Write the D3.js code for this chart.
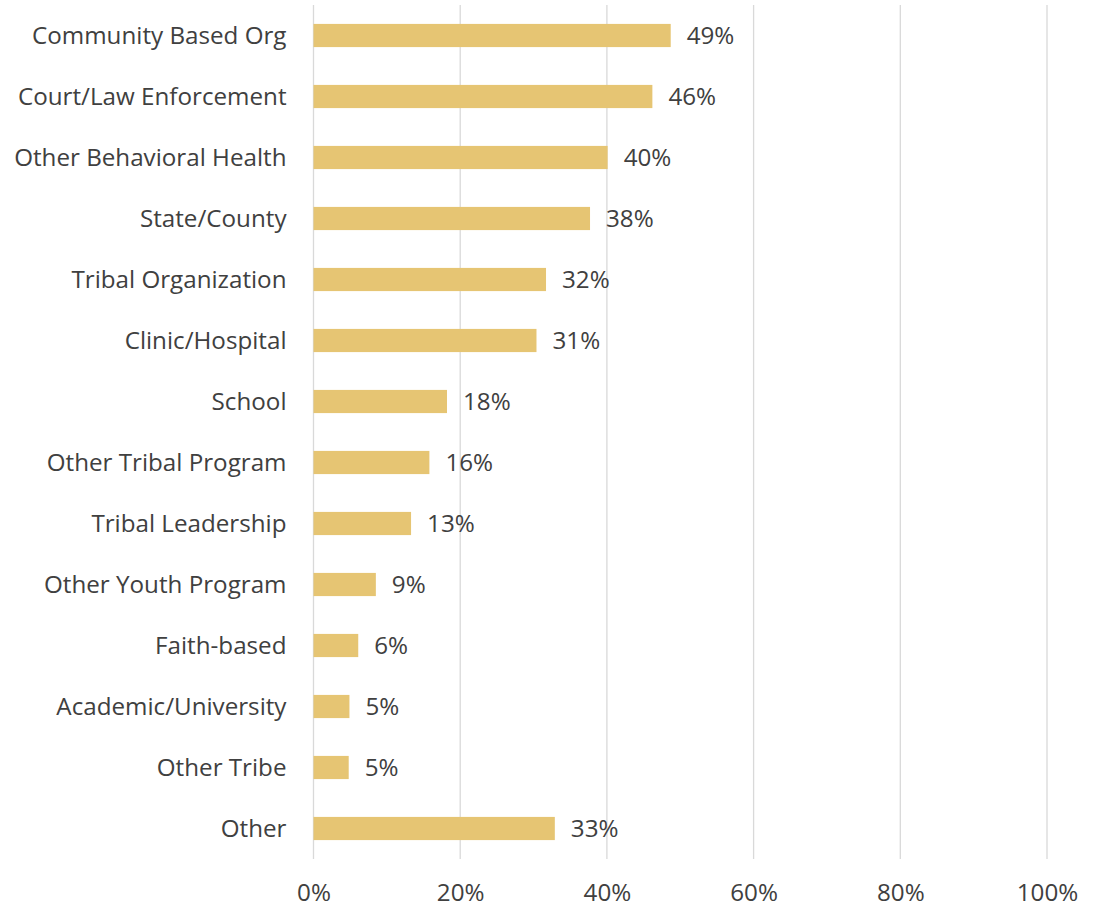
<!DOCTYPE html>
<html>
<head>
<meta charset="utf-8">
<script src="https://cdn.jsdelivr.net/npm/d3@7"></script>
<style>
  body { margin: 0; background: #fff; }
  text { font-family: "Open Sans", Lato, sans-serif; fill: #404040; }
</style>
</head>
<body>
<div id="chart"></div>
<script>
var categories = [
    'Community Based Org',
    'Court/Law Enforcement',
    'Other Behavioral Health',
    'State/County',
    'Tribal Organization',
    'Clinic/Hospital',
    'School',
    'Other Tribal Program',
    'Tribal Leadership',
    'Other Youth Program',
    'Faith-based',
    'Academic/University',
    'Other Tribe',
    'Other'
];
var values = [48.7, 46.2, 40.1, 37.7, 31.7, 30.4, 18.2, 15.8, 13.3, 8.5, 6.1, 4.9, 4.8, 32.9];
var valueLabels = ['49%', '46%', '40%', '38%', '32%', '31%', '18%', '16%', '13%', '9%', '6%', '5%', '5%', '33%'];
var xTicks = [0, 20, 40, 60, 80, 100];

var chart_width = 1093;
var chart_height = 911;
var margin = { top: 5, right: 46, bottom: 52, left: 313.5 };
var font_size = 24.2;

var svg = d3.select('#chart')
    .append('svg')
    .attr('width', chart_width)
    .attr('height', chart_height);

// escalas
var x_scale = d3.scaleLinear()
    .domain([0, 100])
    .range([margin.left, chart_width - margin.right]);

var y_scale = d3.scaleBand()
    .domain(categories)
    .range([margin.top, chart_height - margin.bottom])
    .paddingInner(0.62)
    .paddingOuter(0.31);

// linhas de grade
svg.selectAll('line.grid')
    .data(xTicks)
    .enter()
    .append('line')
    .attr('class', 'grid')
    .attr('x1', function (d) { return x_scale(d); })
    .attr('x2', function (d) { return x_scale(d); })
    .attr('y1', margin.top)
    .attr('y2', chart_height - margin.bottom)
    .attr('stroke', '#d9d9d9')
    .attr('stroke-width', 1.3);

// barras
svg.selectAll('rect.bar')
    .data(values)
    .enter()
    .append('rect')
    .attr('class', 'bar')
    .attr('x', x_scale(0))
    .attr('y', function (d, i) { return y_scale(categories[i]); })
    .attr('width', function (d) { return x_scale(d) - x_scale(0); })
    .attr('height', y_scale.bandwidth())
    .attr('fill', '#e6c573');

// rotulos dos valores
svg.selectAll('text.val')
    .data(values)
    .enter()
    .append('text')
    .attr('class', 'val')
    .text(function (d, i) { return valueLabels[i]; })
    .attr('x', function (d) { return x_scale(d) + 16; })
    .attr('y', function (d, i) { return y_scale(categories[i]) + y_scale.bandwidth() / 2; })
    .attr('dy', '0.37em')
    .attr('font-size', font_size);

// eixo y (categorias)
var y_axis = d3.axisLeft(y_scale).tickSize(0).tickPadding(27);
var gy = svg.append('g')
    .attr('transform', 'translate(' + x_scale(0) + ',0)')
    .call(y_axis);
gy.select('.domain').remove();
gy.attr('font-family', null);
gy.selectAll('text')
    .attr('font-size', font_size)
    .attr('dy', '0.37em')
    .attr('fill', null);

// eixo x
var x_axis = d3.axisBottom(x_scale)
    .tickValues(xTicks)
    .tickSize(0)
    .tickPadding(25)
    .tickFormat(function (d) { return d + '%'; });
var gx = svg.append('g')
    .attr('transform', 'translate(0,' + (chart_height - margin.bottom) + ')')
    .call(x_axis);
gx.select('.domain').remove();
gx.attr('font-family', null);
gx.selectAll('text')
    .attr('font-size', font_size)
    .attr('fill', null);
</script>
</body>
</html>
